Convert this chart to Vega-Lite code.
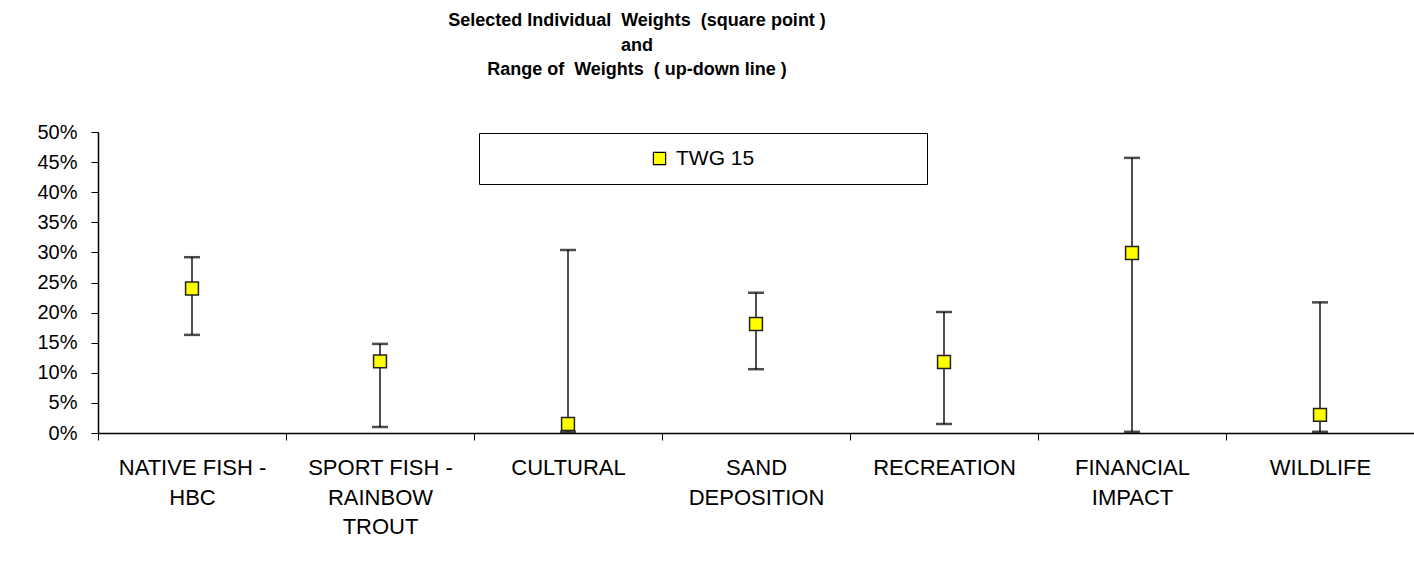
{
  "$schema": "https://vega.github.io/schema/vega-lite/v6.json",
  "width": 1316,
  "height": 301,
  "autosize": {"type": "none"},
  "padding": {"left": 98, "top": 132, "right": 0, "bottom": 146},
  "background": "white",
  "config": {
    "font": "Liberation Sans",
    "view": {"stroke": null},
    "axis": {"labelFont": "Liberation Sans", "labelColor": "#000", "domainColor": "#000", "tickColor": "#000", "titleFont": "Liberation Sans"},
    "axisY": {"format": ".0%", "values": [0, 0.05, 0.1, 0.15, 0.2, 0.25, 0.3, 0.35, 0.4, 0.45, 0.5], "labelOverlap": false, "labelFlush": false, "labelFontSize": 20, "grid": false, "tickSize": 7, "labelPadding": 14, "domainWidth": 1.5, "title": null}
  },
  "title": {
    "text": ["Selected Individual\u00a0 Weights\u00a0 (square point )", "and", "Range of\u00a0 Weights\u00a0 ( up-down line )"],
    "anchor": "middle",
    "frame": "group",
    "dx": -119,
    "offset": 43,
    "lineHeight": 24.5,
    "fontSize": 18,
    "fontWeight": "bold",
    "font": "Liberation Sans",
    "color": "#000"
  },
  "data": {
    "values": [
      {"category": "NATIVE FISH - HBC", "series": "TWG 15", "weight": 0.24, "low": 0.163, "high": 0.292},
      {"category": "SPORT FISH - RAINBOW TROUT", "series": "TWG 15", "weight": 0.119, "low": 0.01, "high": 0.148},
      {"category": "CULTURAL", "series": "TWG 15", "weight": 0.015, "low": 0.002, "high": 0.304},
      {"category": "SAND DEPOSITION", "series": "TWG 15", "weight": 0.181, "low": 0.106, "high": 0.233},
      {"category": "RECREATION", "series": "TWG 15", "weight": 0.118, "low": 0.015, "high": 0.201},
      {"category": "FINANCIAL IMPACT", "series": "TWG 15", "weight": 0.299, "low": 0.002, "high": 0.457},
      {"category": "WILDLIFE", "series": "TWG 15", "weight": 0.03, "low": 0.002, "high": 0.217}
    ]
  },
  "encoding": {
    "x": {
      "field": "category",
      "type": "nominal",
      "sort": null,
      "scale": {"paddingInner": 0, "paddingOuter": 0},
      "axis": {
        "title": null,
        "labelAngle": 0,
        "tickBand": "extent",
        "tickSize": 7,
        "labelPadding": 17.5,
        "labelFontSize": 22,
        "labelLineHeight": 29.5,
        "labelBaseline": "top",
        "labelLimit": 400,
        "domainWidth": 1.5,
        "labelExpr": "datum.label == 'NATIVE FISH - HBC' ? ['NATIVE FISH -', 'HBC'] : datum.label == 'SPORT FISH - RAINBOW TROUT' ? ['SPORT FISH -', 'RAINBOW', 'TROUT'] : datum.label == 'SAND DEPOSITION' ? ['SAND', 'DEPOSITION'] : datum.label == 'FINANCIAL IMPACT' ? ['FINANCIAL', 'IMPACT'] : datum.label"
      }
    }
  },
  "layer": [
    {
      "mark": {"type": "rule", "color": "#222", "strokeWidth": 1.6},
      "encoding": {
        "y": {"field": "low", "type": "quantitative", "scale": {"domain": [0, 0.5], "nice": false}, "title": null},
        "y2": {"field": "high"}
      }
    },
    {
      "mark": {"type": "tick", "color": "#000", "size": 16, "thickness": 2.5, "orient": "horizontal"},
      "encoding": {"y": {"field": "high", "type": "quantitative", "title": null}}
    },
    {
      "mark": {"type": "tick", "color": "#000", "size": 16, "thickness": 2.5, "orient": "horizontal"},
      "encoding": {"y": {"field": "low", "type": "quantitative", "title": null}}
    },
    {
      "mark": {"type": "point", "shape": "square", "filled": true, "size": 165, "stroke": "#222", "strokeWidth": 1.5, "opacity": 1},
      "encoding": {
        "y": {"field": "weight", "type": "quantitative", "title": null},
        "fill": {
          "field": "series",
          "type": "nominal",
          "scale": {"range": ["#ffff00"]},
          "legend": {
            "title": "\u00a0",
            "titleOrient": "right",
            "titlePadding": 158,
            "orient": "none",
            "legendX": 381,
            "legendY": 1,
            "padding": 15,
            "strokeColor": "#000",
            "fillColor": "#fff",
            "symbolType": "square",
            "symbolSize": 150,
            "symbolOffset": 155,
            "symbolStrokeColor": "#000",
            "symbolStrokeWidth": 1.2,
            "labelFont": "Liberation Sans",
            "labelFontSize": 21,
            "labelColor": "#000",
            "labelOffset": 6,
            "labelLimit": 500
          }
        }
      }
    }
  ]
}
